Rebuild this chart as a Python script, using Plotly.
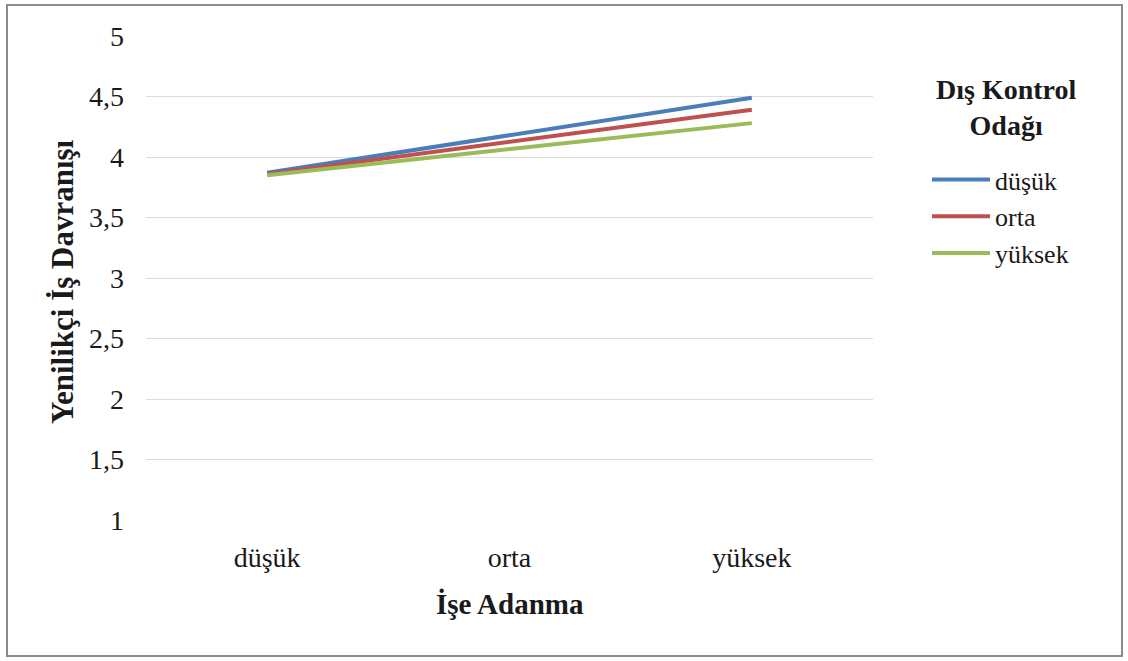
import plotly.graph_objects as go

categories = ["düşük", "orta", "yüksek"]
series_names = ["düşük", "orta", "yüksek"]
val_dusuk = [3.87, 4.18, 4.49]
val_orta = [3.86, 4.125, 4.39]
val_yuksek = [3.85, 4.065, 4.28]
colors = ["#4A7EBB", "#C0504D", "#9BBB59"]
yticks = [1, 1.5, 2, 2.5, 3, 3.5, 4, 4.5, 5]

W, H = 1128, 661
L, R, T, B = 146, 255, 36, 141
pw, ph = W - L - R, H - T - B

FONT = "Liberation Serif"
TXT = "#1A1A1A"

fig = go.Figure()
for name, vals, c in zip(series_names, [val_dusuk, val_orta, val_yuksek], colors):
    fig.add_trace(go.Scatter(x=categories, y=vals, mode="lines", name=name,
                             line=dict(color=c, width=4)))

def px_x(x):
    return (x - L) / pw

def px_y(y):
    return (H - B - y) / ph

fig.update_layout(
    width=W, height=H,
    margin=dict(l=L, r=R, t=T, b=B, pad=0),
    paper_bgcolor="white", plot_bgcolor="white",
    separators=",.",
    font=dict(family=FONT, size=28, color=TXT),
    showlegend=True,
    legend=dict(x=px_x(927), y=px_y(156), xanchor="left", yanchor="top",
                font=dict(family=FONT, size=26, color=TXT),
                bgcolor="rgba(0,0,0,0)", tracegroupgap=0, itemwidth=58),
    xaxis=dict(type="category", range=[-0.5, 2.5], showgrid=False, showline=False,
               zeroline=False, ticks="", ticklabelstandoff=18,
               tickfont=dict(family=FONT, size=28, color=TXT)),
    yaxis=dict(range=[1, 5], tickvals=yticks, showgrid=True, gridcolor="#DCDCDC",
               gridwidth=1, zeroline=False, showline=False, ticks="",
               ticklabelstandoff=21,
               tickfont=dict(family=FONT, size=28, color=TXT)),
    annotations=[
        dict(text="<b>İşe Adanma</b>", xref="paper", yref="paper",
             x=px_x(510), y=px_y(604), xanchor="center", yanchor="middle",
             showarrow=False, font=dict(family=FONT, size=29, color=TXT)),
        dict(text="<b>Yenilikçi İş Davranışı</b>", xref="paper", yref="paper",
             x=px_x(62), y=px_y(282), xanchor="center", yanchor="middle",
             showarrow=False, textangle=-90,
             font=dict(family=FONT, size=31, color=TXT)),
        dict(text="<b>Dış Kontrol<br>Odağı</b>", xref="paper", yref="paper",
             x=px_x(1006), y=px_y(108), xanchor="center", yanchor="middle",
             showarrow=False, align="center",
             font=dict(family=FONT, size=28, color=TXT)),
    ],
    shapes=[
        dict(type="rect", xref="paper", yref="paper",
             x0=px_x(7), x1=px_x(1122), y0=px_y(656), y1=px_y(5),
             line=dict(color="#8C8C8C", width=2), fillcolor="rgba(0,0,0,0)",
             layer="below"),
    ],
)

fig.write_html("out.html")
